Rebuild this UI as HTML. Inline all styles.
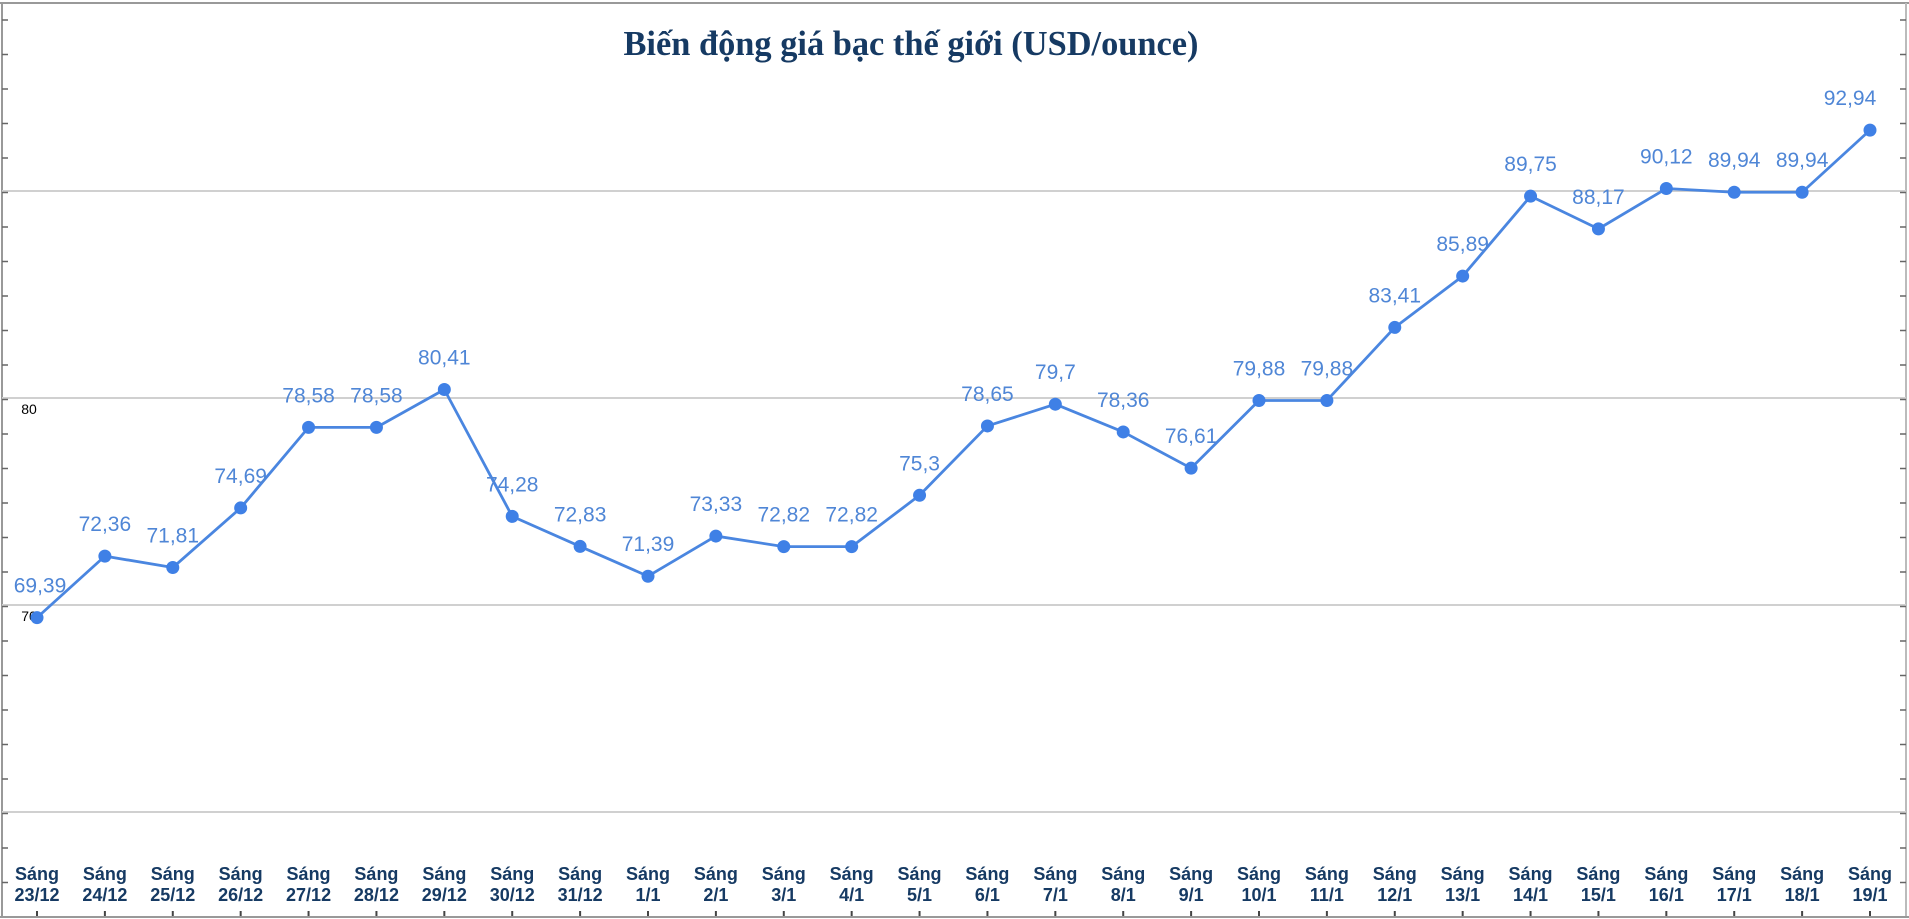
<!DOCTYPE html>
<html><head><meta charset="utf-8"><style>
html,body{margin:0;padding:0;background:#fff;}
svg{display:block;}
</style></head><body>
<svg id="chart" width="1909" height="919" viewBox="0 0 1909 919" xmlns="http://www.w3.org/2000/svg">
<rect x="0" y="0" width="1909" height="919" fill="#fff"/>
<line x1="0" y1="3" x2="1909" y2="3" stroke="#999" stroke-width="2"/>
<line x1="2" y1="3" x2="2" y2="917" stroke="#999" stroke-width="2"/>
<line x1="1906" y1="3" x2="1906" y2="917" stroke="#bbb" stroke-width="2"/>
<line x1="0" y1="917" x2="1909" y2="917" stroke="#999" stroke-width="2"/>
<text x="911" y="55" text-anchor="middle" textLength="575" lengthAdjust="spacingAndGlyphs" font-family="Liberation Serif, serif" font-weight="bold" font-size="35" fill="#163a63">Biến động giá bạc thế giới (USD/ounce)</text>
<g id="grid"></g><g id="yl"></g><g id="series"></g><g id="xl"></g>
</svg>
<script>
const categories = ["23/12","24/12","25/12","26/12","27/12","28/12","29/12","30/12","31/12","1/1","2/1","3/1","4/1","5/1","6/1","7/1","8/1","9/1","10/1","11/1","12/1","13/1","14/1","15/1","16/1","17/1","18/1","19/1"];
const prices = [69.39,72.36,71.81,74.69,78.58,78.58,80.41,74.28,72.83,71.39,73.33,72.82,72.82,75.3,78.65,79.7,78.36,76.61,79.88,79.88,83.41,85.89,89.75,88.17,90.12,89.94,89.94,92.94];
const gridValues = [60,70,80,90];
const yTickLabels = [70,80];

const NS="http://www.w3.org/2000/svg";
const X0=37, X1=1870;
function xScale(i){return X0+(X1-X0)*i/(categories.length-1);}
function yScale(v){return 605-(v-70)*20.7;}
function mk(tag,attrs,parent,txt){const e=document.createElementNS(NS,tag);for(const k in attrs)e.setAttribute(k,attrs[k]);if(txt!==undefined)e.textContent=txt;parent.appendChild(e);return e;}
const grid=document.getElementById('grid'),yl=document.getElementById('yl'),series=document.getElementById('series'),xl=document.getElementById('xl');
gridValues.forEach(v=>{
  const l=mk('line',{x1:2,x2:1906,y1:yScale(v),y2:yScale(v),stroke:'#d0d0d0','stroke-width':2},grid);
  
  
});
for(let y=20;y<917;y+=34.5){
  const t=mk('line',{x1:2,x2:8,y1:y,y2:y,stroke:'#666','stroke-width':1.5},grid);
  
  
  const r=mk('line',{x1:1900,x2:1906,y1:y,y2:y,stroke:'#666','stroke-width':1.5},grid);
  
  
}
yTickLabels.forEach(v=>{
  const t=mk('text',{x:29,y:yScale(v)+16,'text-anchor':'middle','font-family':'Liberation Sans, sans-serif','font-size':14,fill:'#000'},yl,String(v));
  
  
});
const pts=prices.map((v,i)=>xScale(i)+','+yScale(v)).join(' ');
const pl=mk('polyline',{points:pts,fill:'none',stroke:'#4a86e0','stroke-width':2.8,'stroke-linejoin':'round'},series);


prices.forEach((v,i)=>{
  const c=mk('circle',{cx:xScale(i),cy:yScale(v),r:6.5,fill:'#3f80e6'},series);
  
  
  let lx=xScale(i); if(i===0) lx+=3; if(i===prices.length-1) lx-=20;
  const t=mk('text',{x:lx,y:yScale(v)-25,'text-anchor':'middle','font-family':'Liberation Sans, sans-serif','font-size':21,fill:'#4f86d6'},series,String(v).replace('.',','));
  
  
  const a=mk('text',{x:xScale(i),y:880,'text-anchor':'middle','font-family':'Liberation Sans, sans-serif','font-weight':'bold','font-size':18,fill:'#163a63'},xl,'Sáng');
  
  
  const b=mk('text',{x:xScale(i),y:901,'text-anchor':'middle','font-family':'Liberation Sans, sans-serif','font-weight':'bold','font-size':18,fill:'#163a63'},xl,categories[i]);
  
  
  const tk=mk('line',{x1:xScale(i),x2:xScale(i),y1:911,y2:916,stroke:'#444','stroke-width':2},xl);
  
  
});
</script>
</body></html>
